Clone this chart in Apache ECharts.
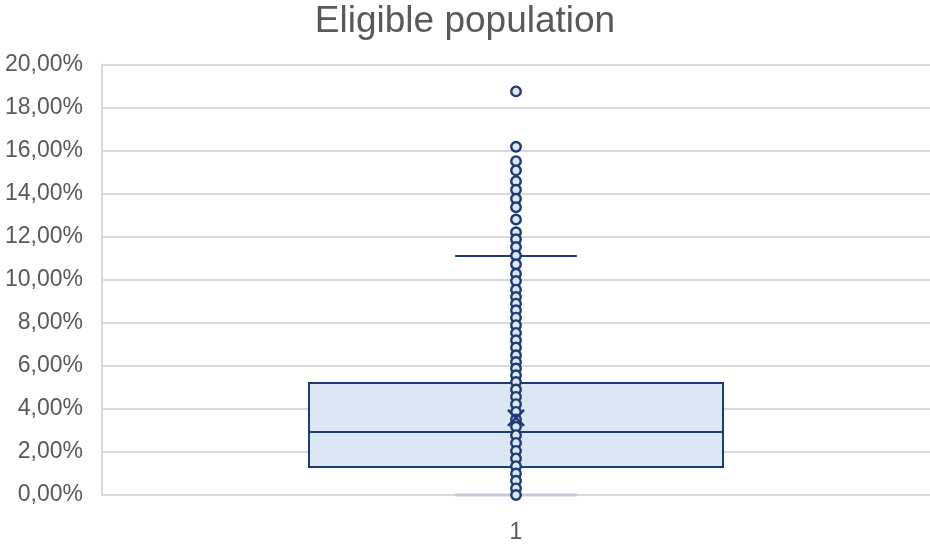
<!DOCTYPE html>
<html>
<head>
<meta charset="utf-8">
<script src="https://cdn.jsdelivr.net/npm/echarts@6/dist/echarts.min.js"></script>
<style>html,body{margin:0;padding:0;background:#fff}#c{width:930px;height:544px}</style>
</head>
<body>
<div id="c"></div>
<script>
const categories = ['1'];
// min, Q1, median, Q3, max (upper whisker), in %
const boxStats = [0, 1.30, 2.93, 5.20, 11.10];
const meanValue = 3.58;
const points = [18.75, 16.18, 15.51, 15.08, 14.58, 14.18, 13.76, 13.37, 12.80, 12.21, 11.88, 11.52, 11.13,
  10.72, 10.28, 9.94, 9.54, 9.20, 8.89, 8.58, 8.24, 7.89, 7.53, 7.19, 6.85, 6.49, 6.18, 5.88, 5.56, 5.25,
  4.90, 4.56, 4.22, 3.86, 3.51, 3.17, 2.78, 2.42, 2.05, 1.70, 1.34, 1.00, 0.66, 0.31, 0.00];
const yTicks = { min: 0, max: 20, interval: 2 };

const NAVY = '#1F3B73';
const FONT = 'Liberation Sans, Arial, sans-serif';

const chart = echarts.init(document.getElementById('c'));

function renderBox(params, api) {
  const cat = api.value(0);
  const band = api.size([1, 0])[0];
  const cx = api.coord([cat, 0])[0];
  const yMin = api.coord([cat, api.value(1)])[1];
  const yQ1 = api.coord([cat, api.value(2)])[1];
  const yMed = api.coord([cat, api.value(3)])[1];
  const yQ3 = api.coord([cat, api.value(4)])[1];
  const yMax = api.coord([cat, api.value(5)])[1];
  const bw = band * 0.5;
  const cw = band * 0.147;
  return {
    type: 'group',
    children: [
      { type: 'line', shape: { x1: cx, y1: yQ3, x2: cx, y2: yMax }, style: { stroke: NAVY, lineWidth: 2 } },
      { type: 'line', shape: { x1: cx, y1: yQ1, x2: cx, y2: yMin }, style: { stroke: NAVY, lineWidth: 2 } },
      { type: 'rect', shape: { x: cx - bw / 2, y: yQ3, width: bw, height: yQ1 - yQ3 }, style: { fill: '#DBE7F5', stroke: NAVY, lineWidth: 2 } },
      { type: 'line', shape: { x1: cx - bw / 2, y1: yMed, x2: cx + bw / 2, y2: yMed }, style: { stroke: NAVY, lineWidth: 2 } },
      { type: 'line', shape: { x1: cx - cw / 2, y1: yMax, x2: cx + cw / 2, y2: yMax }, style: { stroke: NAVY, lineWidth: 2 } },
      { type: 'line', shape: { x1: cx - cw / 2, y1: yMin, x2: cx + cw / 2, y2: yMin }, style: { stroke: '#C3CAD8', lineWidth: 3 } }
    ]
  };
}

function renderMean(params, api) {
  const p = api.coord([api.value(0), api.value(1)]);
  const s = 8;
  return {
    type: 'group',
    children: [
      { type: 'line', shape: { x1: p[0] - s, y1: p[1] - s, x2: p[0] + s, y2: p[1] + s }, style: { stroke: NAVY, lineWidth: 2.5 } },
      { type: 'line', shape: { x1: p[0] - s, y1: p[1] + s, x2: p[0] + s, y2: p[1] - s }, style: { stroke: NAVY, lineWidth: 2.5 } }
    ]
  };
}

chart.setOption({
  animation: false,
  backgroundColor: '#fff',
  title: {
    text: 'Eligible population', left: 'center', top: -2,
    textStyle: { fontFamily: FONT, fontSize: 37, fontWeight: 'normal', color: '#595959' }
  },
  grid: { left: 102, right: 0, top: 64.5, bottom: 49, containLabel: false },
  xAxis: {
    type: 'category', data: categories,
    axisLine: { lineStyle: { color: '#D9D9D9', width: 2 } },
    axisTick: { show: false },
    axisLabel: { fontFamily: FONT, fontSize: 23, color: '#595959', margin: 26 },
    splitLine: { show: false }
  },
  yAxis: {
    type: 'value', min: yTicks.min, max: yTicks.max, interval: yTicks.interval,
    axisLine: { show: true, lineStyle: { color: '#D9D9D9', width: 2 } },
    axisTick: { show: false },
    axisLabel: {
      fontFamily: FONT, fontSize: 23, color: '#595959', margin: 19, padding: [6, 0, 0, 0],
      formatter: v => v.toFixed(2).replace('.', ',') + '%'
    },
    splitLine: { lineStyle: { color: '#D9D9D9', width: 2 } }
  },
  series: [
    {
      type: 'custom', renderItem: renderBox, z: 2,
      data: [[0, ...boxStats]]
    },
    {
      type: 'scatter', z: 3,
      symbol: 'circle', symbolSize: 9.5,
      itemStyle: { color: '#DDE8F6', borderColor: NAVY, borderWidth: 2.4, opacity: 1 },
      data: points.map(v => [0, v])
    },
    {
      type: 'custom', renderItem: renderMean, z: 4,
      data: [[0, meanValue]]
    }
  ]
});
</script>
</body>
</html>
